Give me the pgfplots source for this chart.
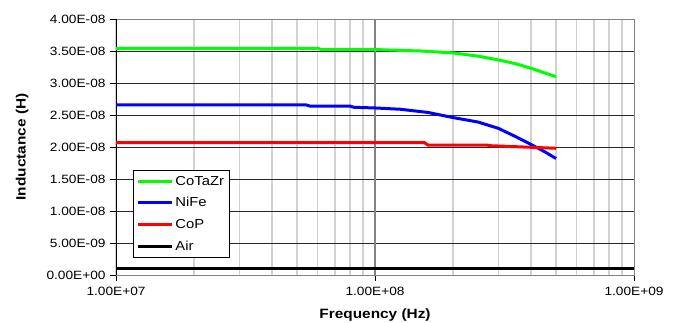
\documentclass[border=0pt]{standalone}
\usepackage{pgfplots}
\pgfplotsset{compat=1.18}
\usepackage{fontspec}
\setmainfont{Liberation Sans}[FakeStretch=1.14]
\definecolor{gridminor}{RGB}{210,210,210}
\definecolor{gridmajor}{RGB}{40,40,40}
\definecolor{frame}{RGB}{130,130,130}
\begin{document}
\begin{tikzpicture}[x=1pt,y=1pt]
\useasboundingbox (-116,-47) rectangle (562,275);
\begin{axis}[
  at={(0,0)}, anchor=south west,
  scale only axis, width=518pt, height=256pt,
  xmode=log, xmin=1e7, xmax=1e9,
  ymin=0, ymax=4e-8,
  axis line style={draw=none},
  xtick={1e7,1e8,1e9},
  xticklabels={1.00E+07,1.00E+08,1.00E+09},
  ytick={0,5e-9,1e-8,1.5e-8,2e-8,2.5e-8,3e-8,3.5e-8,4e-8},
  yticklabels={0.00E+00,5.00E-09,1.00E-08,1.50E-08,2.00E-08,2.50E-08,3.00E-08,3.50E-08,4.00E-08},
  scaled y ticks=false,
  tick align=outside, major tick length=6pt,
  tick style={black, line width=0.8pt},
  xtick pos=bottom, ytick pos=left,
  minor x tick num=8,
  minor tick length=0pt,
  xminorgrids=true, ymajorgrids=true,
  minor x grid style={gridminor, line width=1.4pt},
  major grid style={gridmajor, line width=0.9pt},
  x tick label style={font=\fontsize{12}{14}\selectfont, yshift=-3pt},
  y tick label style={font=\fontsize{12}{14}\selectfont, xshift=-1pt},
  xlabel={\textbf{Frequency (Hz)}},
  ylabel={\textbf{Inductance (H)}},
  xlabel style={font=\fontsize{13.5}{16}\selectfont, at={(rel axis cs:0.5,0)}, anchor=center, yshift=-40pt},
  ylabel style={font=\fontsize{13.5}{16}\selectfont, at={(rel axis cs:0,0.5)}, anchor=center, yshift=94pt},
  legend style={at={(rel axis cs:0.0328,0.41)}, anchor=north west, draw=black, line width=0.8pt,
    font=\fontsize{13}{15}\selectfont, inner xsep=3pt, inner ysep=3.5pt, row sep=7pt},
  legend cell align=left,
  legend image code/.code={\draw[#1, line width=3pt] (0pt,0pt) -- (34pt,0pt);},
  every axis plot/.append style={line width=3pt},
  clip=false,
]
% frame
\draw[frame, line width=1pt] (rel axis cs:0,1) -- (rel axis cs:1,1) -- (rel axis cs:1,0) -- (rel axis cs:0,0);
\draw[black, line width=1pt] (rel axis cs:0,0) -- (rel axis cs:0,1);
\draw[frame, line width=1.2pt] (axis cs:1e8,0) -- (axis cs:1e8,4e-8);
\addplot[color={rgb,255:red,0;green,255;blue,0}] coordinates {
(1e7,3.54e-8) (6.0e7,3.54e-8) (6.3e7,3.52e-8) (1.05e8,3.52e-8) (1.25e8,3.51e-8)
(1.5e8,3.50e-8) (2.0e8,3.47e-8) (2.5e8,3.42e-8) (3.0e8,3.36e-8) (3.5e8,3.30e-8)
(4.0e8,3.23e-8) (4.5e8,3.16e-8) (5.0e8,3.10e-8)};
\addlegendentry{CoTaZr}
\addplot[color={rgb,255:red,0;green,0;blue,255}] coordinates {
(1e7,2.66e-8) (5.4e7,2.66e-8) (5.6e7,2.64e-8) (8.0e7,2.64e-8) (8.3e7,2.62e-8)
(1e8,2.61e-8) (1.25e8,2.59e-8) (1.6e8,2.54e-8) (2.0e8,2.46e-8) (2.5e8,2.39e-8)
(3.0e8,2.29e-8) (3.5e8,2.16e-8) (4.0e8,2.04e-8) (4.5e8,1.93e-8) (5e8,1.82e-8)};
\addlegendentry{NiFe}
\addplot[color={rgb,255:red,255;green,0;blue,0}] coordinates {
(1e7,2.07e-8) (1.55e8,2.07e-8) (1.6e8,2.03e-8) (2.7e8,2.03e-8) (2.8e8,2.02e-8) (5e8,1.98e-8)};
\addlegendentry{CoP}
\addplot[black, line width=3.5pt] coordinates {(1e7,1e-9) (1e9,1e-9)};
\addlegendentry{Air}
\end{axis}
\end{tikzpicture}
\end{document}
